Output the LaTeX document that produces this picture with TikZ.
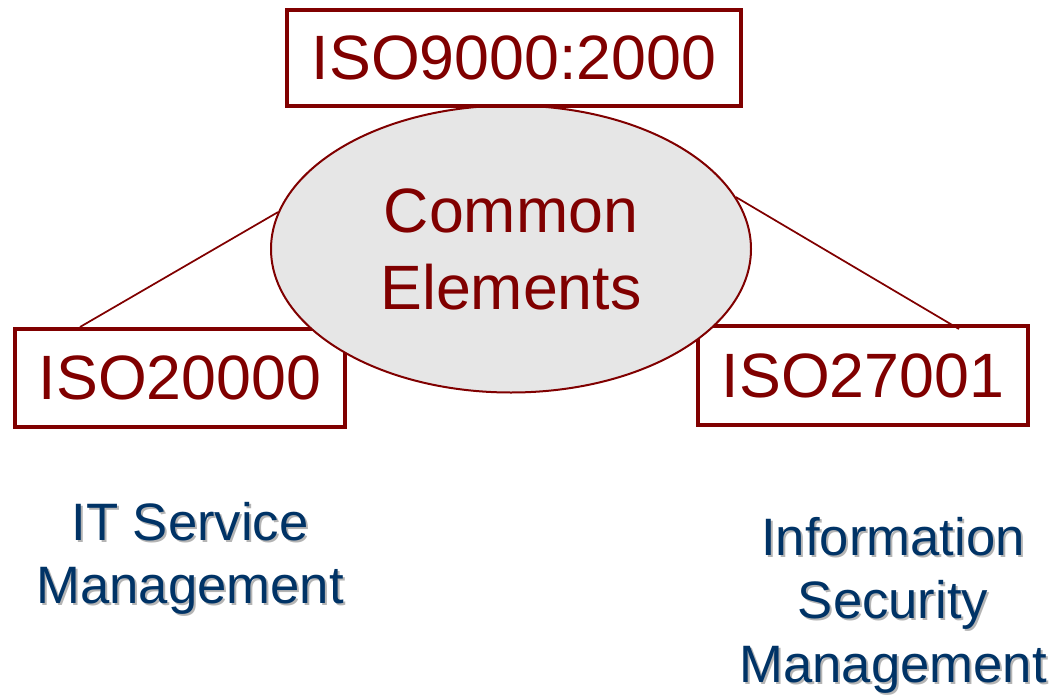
\documentclass[tikz,border=0pt]{standalone}
\usepackage{fontspec}
\setmainfont{Liberation Sans}
\usetikzlibrary{shapes.geometric}
\definecolor{isored}{RGB}{128,0,0}
\definecolor{isoblue}{RGB}{0,51,102}
\definecolor{shade}{RGB}{180,180,180}
\definecolor{corefill}{RGB}{230,230,230}
\tikzstyle{std} = [rectangle,draw=isored,line width=3pt,text=isored,inner sep=0pt,
                   font=\fontsize{47pt}{56pt}\selectfont]
\tikzstyle{core} = [ellipse,draw=isored,line width=1.5pt,fill=corefill,text=isored,
                    inner sep=0pt,align=center,font=\fontsize{47pt}{57.75pt}\selectfont]
\tikzstyle{area} = [text=isoblue,align=center,inner sep=0pt,anchor=north,
                    font=\fontsize{39.5pt}{47.5pt}\selectfont]
\tikzstyle{link} = [isored,line width=1.3pt]
\newcommand{\shtext}[1]{\rlap{\kern1.5pt\raisebox{-1.5pt}{\color{shade}#1}}#1}

\begin{document}
\begin{tikzpicture}[x=0.75pt,y=-0.75pt]
 \useasboundingbox (0,0) rectangle (1054,696);
 \node (ISO20) [std,minimum width=247.5pt,minimum height=73.5pt] at (180,378) {ISO20000};
 \node (ISO27) [std,minimum width=247.5pt,minimum height=74.25pt] at (863,375.5) {ISO27001};
 \node (CE) [core,minimum width=360pt,minimum height=215.25pt] at (511,249) {Common\\Elements};
 \node (ISO9) [std,minimum width=340.5pt,minimum height=72pt] at (514,58) {ISO9000:2000};
 \node (ITSM) [area] at (190,502) {\shtext{IT Service}\\\shtext{Management}};
 \node (ISM) [area] at (893,517) {\shtext{Information}\\\shtext{Security}\\\shtext{Management}};
 \draw [link] ([xshift=50.25pt]ISO20.north west) -- (CE.171);
 \draw [link] ([xshift=197.25pt,yshift=-3.75pt]ISO27.north west) -- (CE.13);
\end{tikzpicture}
\end{document}
